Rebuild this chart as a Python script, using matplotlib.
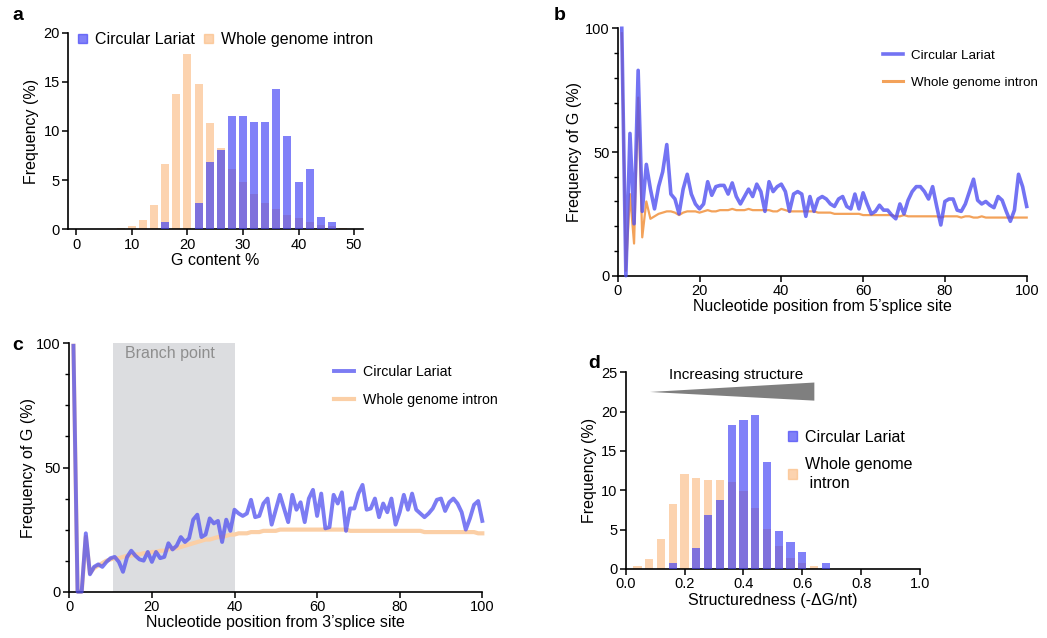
import matplotlib
matplotlib.use("Agg")
import matplotlib.pyplot as plt
from matplotlib.patches import Rectangle, Polygon
from matplotlib.lines import Line2D
from matplotlib.patches import Patch
import numpy as np

plt.rcParams['font.family'] = ['Liberation Sans', 'DejaVu Sans']

# ---------------- data ----------------
# Panel a: G content histogram (bin centres, %)
a_bins = [8, 10, 12, 14, 16, 18, 20, 22, 24, 26, 28, 30, 32, 34, 36, 38, 40, 42, 44, 46, 48]
a_whole = [0.1, 0.3, 0.9, 2.5, 6.6, 13.8, 17.8, 14.8, 10.8, 8.3, 6.1, 4.8, 3.6, 2.7, 2.1, 1.5, 1.1, 0.7, 0.45, 0.3, 0.1]
a_lariat = [0, 0, 0, 0, 0.7, 0, 0, 2.7, 6.8, 8.1, 11.5, 11.5, 10.9, 10.9, 14.3, 9.5, 4.8, 6.1, 1.3, 0.7, 0]

# Panel b: frequency of G from 5' splice site
b_pos = list(range(1, 101))
b_lariat = [100, 0, 57.5, 21, 83, 26, 45, 35, 27, 36,
            42, 53, 33, 31, 25, 35, 41, 33, 29, 27,
            29, 38, 32.5, 36, 36.5, 36.5, 33, 37.5, 32, 29,
            32, 35, 32, 37, 34, 26, 38, 34, 36, 37,
            34, 26, 33, 34, 33, 24, 32, 26, 31, 32,
            31, 29, 28, 31, 32, 28, 27, 33, 27, 33.5,
            29, 25, 26, 28.5, 26.5, 26.5, 24.5, 23, 29, 25,
            30.5, 34, 36, 36, 34, 31, 36, 28, 20.5, 30,
            31, 31, 26.5, 26, 29, 34, 39, 30.5, 29, 30,
            28.5, 27.5, 32, 30.5, 26, 22, 26.5, 41, 36, 28]
b_whole = [98, 2, 33, 13, 72, 15.5, 30, 23, 24, 25,
           25.5, 26, 26, 25.5, 24.5, 25.5, 26, 26, 26, 25.5,
           26, 26.5, 26, 26, 26.5, 26.5, 26.5, 27, 26.5, 26.5,
           26.5, 27, 26.5, 26.5, 26.5, 26.5, 26.5, 26, 26, 27,
           26.5, 26, 26, 26, 26, 26, 26, 26, 25.5, 25.5,
           25.5, 25.5, 25, 25, 25, 25, 25, 25, 25, 24.5,
           24.5, 24.5, 24.5, 24.5, 24.5, 24.5, 24.5, 24, 24, 24.5,
           24, 24, 24, 24, 24, 24, 24, 24, 23.5, 24,
           24, 24, 24, 23.5, 24, 24, 23.5, 23.5, 24, 23.5,
           23.5, 23.5, 23.5, 23.5, 23.5, 23.5, 23.5, 23.5, 23.5, 23.5]

# Panel c: frequency of G from 3' splice site
c_pos = list(range(1, 101))
c_lariat = [99, 0, 0, 23.5, 7, 10, 11, 10, 12, 13.5,
            14, 12, 8, 14, 16.5, 14.5, 13, 12.5, 16, 12,
            16, 13.5, 14, 19.5, 17, 18.5, 22, 20, 21.5, 29,
            31, 22, 23, 29.5, 27.5, 28.5, 20, 29, 24.5, 33,
            31.5, 30.5, 31.5, 37, 30, 30.5, 35.5, 37.5, 27, 33,
            39, 33.5, 28, 39, 33, 36, 28, 37.5, 41, 30.5,
            39.5, 25.5, 26, 39, 35.5, 40, 24.5, 33.5, 33.5, 39.5,
            43, 33, 33.5, 37.5, 30, 35.5, 32, 37.5, 27, 32,
            39, 33, 39.5, 33, 31.5, 30, 31.5, 33.5, 37, 37.5,
            32.5, 36, 37.5, 35.5, 32, 25, 29.5, 35, 36.5, 28.5]
c_whole = [99, 0, 0, 22, 7.5, 9.5, 10.5, 11.5, 12.5, 13,
           13.5, 13.5, 14, 14.5, 14.5, 15, 15, 15.5, 15.5, 16,
           16, 16.5, 16.5, 17, 17.5, 17.5, 18, 18.5, 19, 19.5,
           20, 20.5, 21, 21, 21.5, 22, 22, 22.5, 23, 23,
           23.5, 23.5, 23.5, 24, 24, 24, 24.5, 24.5, 24.5, 24.5,
           25, 25, 25, 25, 25, 25, 25, 25, 25, 25,
           25, 25, 25, 25, 25, 25, 25, 24.5, 24.5, 24.5,
           24.5, 24.5, 24.5, 24.5, 24.5, 24.5, 24.5, 24.5, 24.5, 24.5,
           24.5, 24.5, 24.5, 24.5, 24.5, 24, 24, 24, 24, 24,
           24, 24, 24, 24, 24, 24, 24, 24, 23.5, 23.5]
c_branch = [10.5, 40]

# Panel d: structuredness histogram
d_bins = [0.04, 0.08, 0.12, 0.16, 0.20, 0.24, 0.28, 0.32, 0.36, 0.40, 0.44, 0.48, 0.52, 0.56, 0.60, 0.64, 0.68]
d_whole = [0.4, 1.3, 3.8, 8.3, 12.1, 11.6, 11.3, 11.3, 11.0, 9.9, 7.8, 5.1, 2.9, 1.4, 0.8, 0.4, 0]
d_lariat = [0, 0, 0, 0.7, 0, 2.7, 6.8, 8.8, 18.3, 19.0, 19.6, 13.6, 4.8, 3.4, 2.1, 0, 0.7]

# ---------------- style ----------------
ORANGE_BAR = '#fbb77a'
BLUE_BAR = '#3d3df5'
BLUE_LINE = '#5050f0'
ORANGE_LINE_B = '#f3a25a'
ORANGE_LINE_C = '#fbcfa6'
TICK_FS = 10.5
LAB_FS = 11.5
LEG_FS = 11.5
LINE_LEG_FS = 10.2

W, H = 1047, 638
fig = plt.figure(figsize=(W / 100, H / 100), dpi=100)


def px_axes(left, top, right, bottom):
    return fig.add_axes([left / W, 1 - bottom / H, (right - left) / W, (bottom - top) / H])


def style(ax):
    for s in ['top', 'right']:
        ax.spines[s].set_visible(False)
    for s in ['left', 'bottom']:
        ax.spines[s].set_linewidth(1.2)
    ax.tick_params(direction='out', length=4, width=1.1, labelsize=TICK_FS, pad=2)
    ax.tick_params(which='minor', direction='out', length=3, width=1.0)


# ---- panel a ----
axa = px_axes(68.3, 32.7, 363, 229.3)
style(axa)
axa.bar(a_bins, a_whole, width=1.45, color=ORANGE_BAR, alpha=0.6, zorder=2)
axa.bar(a_bins, a_lariat, width=1.45, color=BLUE_BAR, alpha=0.65, zorder=3)
axa.set_xlim(-1.45, 51.6)
axa.set_ylim(0, 20)
axa.set_xticks([0, 10, 20, 30, 40, 50])
axa.set_yticks([0, 5, 10, 15, 20])
axa.set_xlabel('G content %', fontsize=LAB_FS, labelpad=1)
axa.set_ylabel('Frequency (%)', fontsize=LAB_FS, labelpad=3)
ha = [Patch(color=BLUE_BAR, alpha=0.65), Patch(color=ORANGE_BAR, alpha=0.6)]
axa.legend(ha, ['Circular Lariat', 'Whole genome intron'], ncol=2, frameon=False,
           fontsize=LEG_FS, loc='upper left', bbox_to_anchor=(-0.015, 1.075),
           handlelength=0.55, handleheight=0.55, handletextpad=0.5, columnspacing=0.6)
fig.text(12 / W, 1 - 16 / H, 'a', fontsize=14, fontweight='bold', va='center')

# ---- panel b ----
axb = px_axes(617.7, 28.3, 1026.7, 275.7)
style(axb)
axb.plot(b_pos, b_whole, color=ORANGE_LINE_B, lw=1.6, zorder=2, clip_on=False)
axb.plot(b_pos, b_lariat, color=BLUE_LINE, lw=2.6, alpha=0.8, zorder=3, clip_on=False)
axb.set_xlim(0, 100)
axb.set_ylim(0, 100)
axb.set_xticks([0, 20, 40, 60, 80, 100])
axb.set_yticks([0, 50, 100])
axb.set_yticks(np.arange(0, 101, 10), minor=True)
axb.set_xlabel('Nucleotide position from 5\u2019splice site', fontsize=LAB_FS, labelpad=1)
axb.set_ylabel('Frequency of G (%)', fontsize=LAB_FS, labelpad=2)
hb = [Line2D([], [], color=BLUE_LINE, lw=2.6, alpha=0.8), Line2D([], [], color=ORANGE_LINE_B, lw=2.2)]
axb.legend(hb, ['Circular Lariat', 'Whole genome intron'], frameon=False, fontsize=9.6,
           loc='upper left', bbox_to_anchor=(0.636, 0.935), handlelength=1.5, handletextpad=0.6,
           labelspacing=1.1, borderaxespad=0)
fig.text(554 / W, 1 - 15 / H, 'b', fontsize=14, fontweight='bold', va='center')

# ---- panel c ----
axc = px_axes(69.3, 343.3, 482.3, 591.7)
style(axc)
axc.add_patch(Rectangle((c_branch[0], 0), c_branch[1] - c_branch[0], 100,
                        facecolor='#dcdde0', edgecolor='none', zorder=0))
axc.text(sum(c_branch) / 2 - 1, 96, 'Branch point', color='#8e8e8e', fontsize=11.5,
         ha='center', va='center', zorder=1)
axc.plot(c_pos, c_whole, color=ORANGE_LINE_C, lw=3.0, zorder=2, clip_on=False)
axc.plot(c_pos, c_lariat, color=BLUE_LINE, lw=2.8, alpha=0.75, zorder=3, clip_on=False)
axc.set_xlim(0, 100)
axc.set_ylim(0, 100)
axc.set_xticks([0, 20, 40, 60, 80, 100])
axc.set_yticks([0, 50, 100])
axc.set_yticks(np.arange(0, 101, 12.5), minor=True)
axc.set_xlabel('Nucleotide position from 3\u2019splice site', fontsize=LAB_FS, labelpad=1)
axc.set_ylabel('Frequency of G (%)', fontsize=LAB_FS, labelpad=0)
hc = [Line2D([], [], color=BLUE_LINE, lw=2.8, alpha=0.75), Line2D([], [], color=ORANGE_LINE_C, lw=3.0)]
axc.legend(hc, ['Circular Lariat', 'Whole genome intron'], frameon=False, fontsize=LINE_LEG_FS,
           loc='upper left', bbox_to_anchor=(0.627, 0.935), handlelength=1.45, handletextpad=0.6,
           labelspacing=1.0, borderaxespad=0)
fig.text(12 / W, 1 - 345 / H, 'c', fontsize=14, fontweight='bold', va='center')

# ---- panel d ----
axd = px_axes(625.7, 372.3, 920, 569)
style(axd)
axd.bar(d_bins, d_whole, width=0.028, color=ORANGE_BAR, alpha=0.6, zorder=2)
axd.bar(d_bins, d_lariat, width=0.028, color=BLUE_BAR, alpha=0.65, zorder=3)
axd.set_xlim(0, 1.0)
axd.set_ylim(0, 25)
axd.set_xticks([0.0, 0.2, 0.4, 0.6, 0.8, 1.0])
axd.set_xticklabels(['0.0', '0.2', '0.4', '0.6', '0.8', '1.0'])
axd.set_yticks([0, 5, 10, 15, 20, 25])
axd.set_xlabel('Structuredness (-\u0394G/nt)', fontsize=LAB_FS, labelpad=1)
axd.set_ylabel('Frequency (%)', fontsize=LAB_FS, labelpad=3)
axd.add_patch(Polygon([[0.083, 22.5], [0.641, 23.7], [0.641, 21.4]], closed=True,
                      facecolor='#7f7f7f', edgecolor='none', clip_on=False, zorder=4))
axd.text(0.375, 24.6, 'Increasing structure', fontsize=11, ha='center', va='center', clip_on=False)
hd = [Patch(color=BLUE_BAR, alpha=0.65), Patch(color=ORANGE_BAR, alpha=0.6)]
legd = axd.legend(hd, ['Circular Lariat', 'Whole genome\n intron'], frameon=False, fontsize=LEG_FS,
                  loc='upper left', bbox_to_anchor=(0.529, 0.74), handlelength=0.55, handleheight=0.55,
                  handletextpad=0.5, labelspacing=0.75, borderaxespad=0)
for t in legd.get_texts():
    t.set_linespacing(1.35)
fig.text(588 / W, 1 - 363 / H, 'd', fontsize=14, fontweight='bold', va='center')

fig.savefig('out.png', dpi=100)
